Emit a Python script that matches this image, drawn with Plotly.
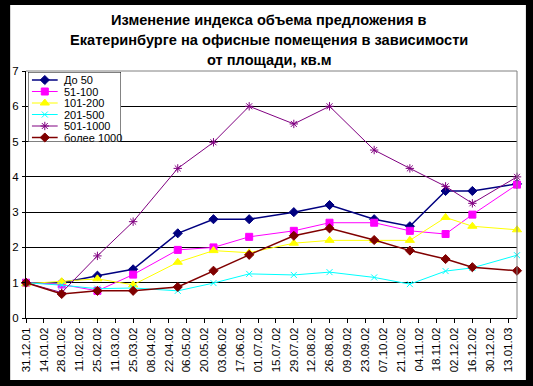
import plotly.graph_objects as go
import pandas as pd

# ---- data ----
dates = ['2001-12-31', '2002-01-28', '2002-02-25', '2002-03-25', '2002-04-29',
         '2002-05-27', '2002-06-24', '2002-07-29', '2002-08-26', '2002-09-30',
         '2002-10-28', '2002-11-25', '2002-12-16', '2003-01-20']
series_names = ['До 50', '51-100', '101-200', '201-500', '501-1000', 'более 1000']
do50 = [1.0, 1.0, 1.2, 1.38, 2.4, 2.8, 2.8, 3.0, 3.2, 2.8, 2.6, 3.6, 3.6, 3.8]
s51_100 = [1.0, 0.95, 0.77, 1.23, 1.93, 2.0, 2.3, 2.47, 2.7, 2.7, 2.47, 2.38, 2.93, 3.78]
s101_200 = [0.97, 1.03, 1.11, 0.94, 1.58, 1.91, 1.85, 2.12, 2.2, 2.2, 2.2, 2.85, 2.6, 2.5]
s201_500 = [1.0, 0.93, 0.83, 0.85, 0.77, 0.99, 1.25, 1.22, 1.3, 1.15, 0.96, 1.33, 1.42, 1.78]
s501_1000 = [1.0, 0.72, 1.76, 2.73, 4.24, 4.98, 6.0, 5.5, 6.0, 4.76, 4.24, 3.73, 3.25, 4.0]
s1000 = [1.0, 0.68, 0.77, 0.77, 0.88, 1.34, 1.79, 2.33, 2.54, 2.21, 1.91, 1.67, 1.44, 1.34]
values = [do50, s51_100, s101_200, s201_500, s501_1000, s1000]

tick_dates = pd.date_range('2001-12-31', '2003-01-13', freq='14D')
tick_labels = [d.strftime('%d.%m.%y') for d in tick_dates]
y_ticks = [0, 1, 2, 3, 4, 5, 6, 7]
title_lines = ['Изменение индекса объема предложения в',
               'Екатеринбурге на офисные помещения в зависимости',
               'от площади, кв.м']

# ---- styles ----
colors = ['#000080', '#FF00FF', '#FFFF00', '#00FFFF', '#800080', '#800000']
symbols = ['diamond', 'square', 'triangle-up', 'x-thin', 'asterisk', 'diamond']
msizes = [7, 7, 8, 6, 7, 7]
lwidths = [1.5, 1, 1, 1, 1, 1.5]
FONT = 'Arial, Liberation Sans, sans-serif'

W, H = 533, 386
L, R, T, B = 21, 517, 71, 318  # plot area in pixels
pw, ph = R - L, B - T

def px_x(p):
    return (p - L) / pw

def px_y(p):
    return (B - p) / ph

fig = go.Figure()
for name, vals, c, s, ms, lw in zip(series_names, values, colors, symbols, msizes, lwidths):
    fig.add_trace(go.Scatter(
        x=dates, y=vals, mode='lines+markers', name=name,
        line=dict(color=c, width=lw),
        marker=dict(symbol=s, size=ms, color=c, line=dict(color=c, width=1)),
        cliponaxis=False, showlegend=False))

# ---- compact legend on a hidden helper axis (pixel units) ----
LX0, LX1, LY0, LY1 = 23, 117, 72, 142
fig.add_trace(go.Scatter(
    x=[LX0, LX1, LX1, LX0, LX0], y=[LY0, LY0, LY1, LY1, LY0], mode='lines',
    fill='toself', fillcolor='white', line=dict(color='black', width=1),
    xaxis='x2', yaxis='y2', showlegend=False, hoverinfo='skip', cliponaxis=False))
leg_rows = [80, 91.5, 103, 114.5, 126, 137.5]
for name, c, s, ms, lw, ry in zip(series_names, colors, symbols, msizes, lwidths, leg_rows):
    fig.add_trace(go.Scatter(
        x=[27, 53], y=[ry, ry], mode='lines', line=dict(color=c, width=lw),
        xaxis='x2', yaxis='y2', showlegend=False, hoverinfo='skip'))
    fig.add_trace(go.Scatter(
        x=[40], y=[ry], mode='markers',
        marker=dict(symbol=s, size=ms, color=c, line=dict(color=c, width=1)),
        xaxis='x2', yaxis='y2', showlegend=False, hoverinfo='skip', cliponaxis=False))
    fig.add_annotation(x=57, y=ry, xref='x2', yref='y2', text=name, showarrow=False,
                       xanchor='left', yanchor='middle',
                       font=dict(family=FONT, size=11, color='black'))

shapes = [
    # white chart area inside black frame
    dict(type='rect', xref='paper', yref='paper', layer='below',
         x0=px_x(5), x1=px_x(526), y0=px_y(380), y1=px_y(5),
         fillcolor='white', line=dict(width=0)),
    # grey top and right plot border
    dict(type='line', xref='paper', yref='paper', layer='above',
         x0=0, x1=1, y0=1, y1=1, line=dict(color='#808080', width=1)),
    dict(type='line', xref='paper', yref='paper', layer='above',
         x0=1, x1=1, y0=0, y1=1, line=dict(color='#808080', width=1)),
]

title_y = [20, 40, 60]
for line, py in zip(title_lines, title_y):
    fig.add_annotation(x=px_x(W / 2), y=px_y(py), xref='paper', yref='paper',
                       text='<b>' + line + '</b>', showarrow=False,
                       xanchor='center', yanchor='middle',
                       font=dict(family=FONT, size=14.6, color='black'))

fig.update_layout(
    width=W, height=H,
    margin=dict(l=L, r=W - R, t=T, b=H - B, pad=0),
    paper_bgcolor='black', plot_bgcolor='white',
    shapes=shapes,
    xaxis=dict(type='date', range=[dates[0], dates[-1]],
               tickvals=list(tick_dates), ticktext=tick_labels,
               tickangle=-90, ticks='outside', ticklen=4, tickcolor='black',
               showgrid=False, zeroline=False,
               showline=True, linecolor='black', linewidth=1,
               tickfont=dict(family=FONT, size=11.5, color='black')),
    yaxis=dict(range=[0, 7], tickvals=y_ticks, ticks='outside', ticklen=3,
               tickcolor='black', showgrid=True, gridcolor='black', gridwidth=1,
               zeroline=False, showline=True, linecolor='black', linewidth=1,
               ticklabelstandoff=1,
               tickfont=dict(family=FONT, size=11.5, color='black')),
    xaxis2=dict(domain=[px_x(LX0), px_x(LX1)], range=[LX0, LX1], anchor='y2',
                visible=False, fixedrange=True),
    yaxis2=dict(domain=[px_y(LY1), px_y(LY0)], range=[LY1, LY0], anchor='x2',
                visible=False, fixedrange=True),
    showlegend=False,
)

fig.write_html('out.html', config={'displayModeBar': False},
               post_script="document.body.style.margin='0';document.body.style.overflow='hidden';")
